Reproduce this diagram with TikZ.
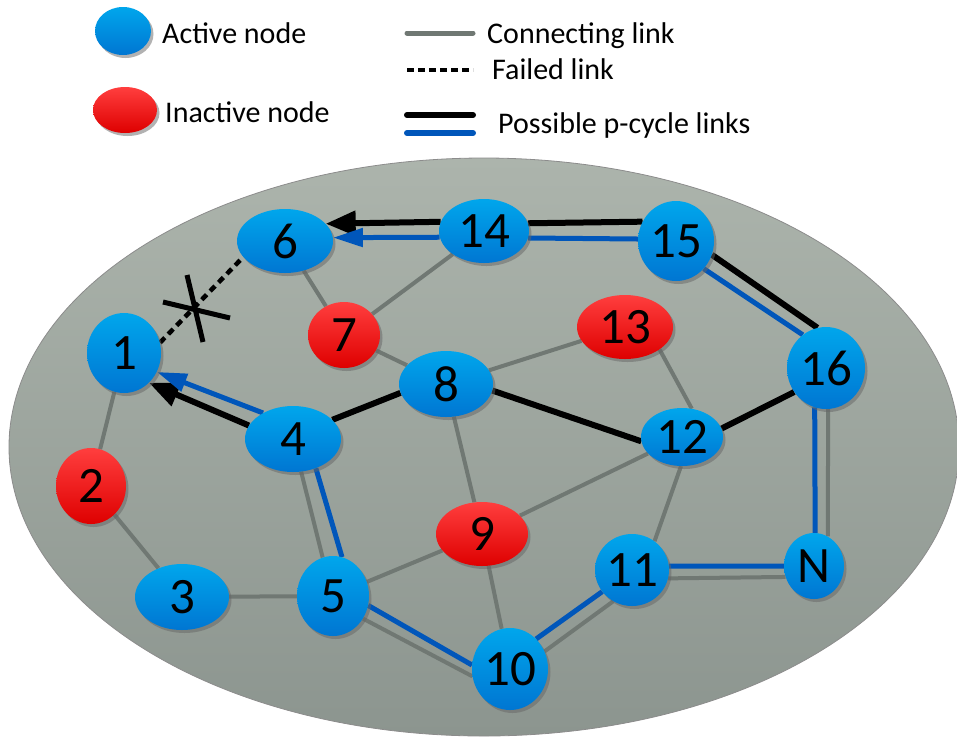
\documentclass[tikz,border=0pt]{standalone}
\usepackage{fontspec}
\setmainfont{Carlito}
\usetikzlibrary{shapes.geometric,arrows.meta,shadows}
\pgfdeclarelayer{bg}
\pgfdeclarelayer{edges}
\pgfsetlayers{bg,edges,main}
\definecolor{nbT}{RGB}{0,166,236}
\definecolor{nbB}{RGB}{0,118,210}
\definecolor{nrT}{RGB}{255,62,62}
\definecolor{nrB}{RGB}{222,0,0}
\definecolor{bgT}{RGB}{172,180,172}
\definecolor{bgB}{RGB}{140,149,143}
\definecolor{lgray}{RGB}{112,120,115}
\definecolor{lblue}{RGB}{0,86,186}
\newcommand{\numfont}{\fontsize{51}{53}\selectfont}
\newcommand{\legfont}{\fontsize{30}{34}\selectfont}
\begin{document}
\begin{tikzpicture}[x=1pt,y=-1pt,
  nd/.style={ellipse, inner sep=0pt, font=\numfont,
    drop shadow={shadow xshift=2.5pt, shadow yshift=-3pt, fill=black!60, opacity=0.5}},
  act/.style={nd, top color=nbT, bottom color=nbB},
  inact/.style={nd, top color=nrT, bottom color=nrB},
  sz/.style 2 args={minimum width=#1pt, minimum height=#2pt},
  glink/.style={draw=lgray, line width=4pt},
  klink/.style={draw=black, line width=6pt},
  plink/.style={draw=lblue, line width=5pt},
  flink/.style={draw=black, line width=4.5pt, dash pattern=on 7pt off 5pt},
  karrow/.style={klink, -{Triangle[length=30pt,width=24pt]}},
  parrow/.style={plink, -{Triangle[length=30pt,width=18pt]}},
  legtext/.style={anchor=base west, font=\legfont, inner sep=0pt},
  xmark/.style={draw=black, line width=5pt},
]
\useasboundingbox (0,0) rectangle (957,740);

\begin{pgfonlayer}{bg}
\path[draw=black!45, line width=0.8pt, top color=bgT, bottom color=bgB]
  (484,447) ellipse [x radius=475pt, y radius=289pt];
\end{pgfonlayer}

% nodes
\node[act, sz={96}{64}] (n6) at (285,241) {6};
\node[act, sz={74}{80}] (n1) at (124,353) {1};
\node[inact, sz={70}{76}] (n2) at (91,486) {2};
\node[act, sz={94}{66}] (n3) at (182,597) {3};
\node[act, sz={96}{66}] (n4) at (293,439) {4};
\node[act, sz={72}{80}] (n5) at (333,596) {5};
\node[inact, sz={72}{66}] (n7) at (344,335) {7};
\node[act, sz={94}{66}] (n8) at (446,384) {8};
\node[inact, sz={92}{64}] (n9) at (482,534) {9};
\node[act, sz={76}{82}] (n10) at (510,669) {10};
\node[act, sz={74}{72}] (n11) at (632,570) {11};
\node[act, sz={82}{58}] (n12) at (682,437) {12};
\node[inact, sz={96}{64}] (n13) at (625,327) {13};
\node[act, sz={90}{64}] (n14) at (484,231) {14};
\node[act, sz={76}{80}] (n15) at (676,241) {15};
\node[act, sz={78}{82}] (n16) at (826,368) {16};
\node[act, sz={60}{66}] (nN) at (814,566) {N};

\begin{pgfonlayer}{edges}
% connecting links
\draw[glink] (n1) -- (n2);
\draw[glink] (n2) -- (n3);
\draw[glink] (n3) -- (n5);
\draw[glink] (n6) -- (n7);
\draw[glink] (n7) -- (n8);
\draw[glink] (n7) -- (n14);
\draw[glink] (n8) -- (n13);
\draw[glink] (n8) -- (n9);
\draw[glink] (n9) -- (n5);
\draw[glink] (n9) -- (n10);
\draw[glink] (n9) -- (n12);
\draw[glink] (n13.327) -- (n12.71);
\draw[glink] (n12.268) -- (n11.52);
% p-cycle single black
\draw[klink] (n4.26) -- (n8.191);
\draw[klink] (n8.352) -- (n12.186);
\draw[klink] (n12.12) -- (n16.217);
% double links
\draw[glink] (n4.284) -- (n5.105);
\draw[plink] (n4.308) -- (n5.77);
\draw[glink] (n5.323) -- (n10.191);
\draw[plink] (n5.345) -- (n10.174);
\draw[glink] (n10.27) -- (n11.239);
\draw[plink] (n10.49) -- (n11.216);
\draw[glink] (n11.347) -- (nN.201);
\draw[plink] (n11.6) -- (nN.180);
\draw[glink] (n16.273) -- (nN.65);
\draw[plink] (n16.254) -- (nN.88);
\draw[klink] (n15.339) -- (n16.102);
\draw[plink] (n15.315) -- (n16.125);
\draw[klink] (n14.10) -- (n15.150);
\draw[plink] (n14.351) -- (n15.177);
% arrows
\draw[karrow] (n14.168) -- (n6.23);
\draw[parrow] (n14.188) -- (n6.4);
\draw[karrow] (n4.163) -- (n1.310);
\draw[parrow] (n4.139) -- (n1.330);
% failed link
\draw[flink] (n1.16) -- (n6.201);
\end{pgfonlayer}

% X mark on failed link
\draw[xmark] (163,302) -- (230,318);
\draw[xmark] (187,275) -- (203,342);

% legend
\node[act, sz={56}{48}] (la) at (123,31) {};
\node[inact, sz={64}{46}] (li) at (125,110) {};
\node[legtext] (ta) at (162,43) {Active node};
\node[legtext] (ti) at (165,122) {Inactive node};
\coordinate (l1a) at (407,33); \coordinate (l1b) at (473,33);
\coordinate (l2a) at (407,70); \coordinate (l2b) at (473,70);
\coordinate (l3a) at (407,115); \coordinate (l3b) at (473,115);
\coordinate (l4a) at (407,133); \coordinate (l4b) at (473,133);
\draw[glink, line width=5pt, line cap=round] (l1a) -- (l1b);
\draw[black, line width=4pt, dash pattern=on 7pt off 4pt] (l2a) -- (l2b);
\draw[klink, line cap=round] (l3a) -- (l3b);
\draw[plink, line width=6pt, line cap=round] (l4a) -- (l4b);
\node[legtext] (tc) at (487,43) {Connecting link};
\node[legtext] (tf) at (492,79) {Failed link};
\node[legtext] (tp) at (498,133) {Possible p-cycle links};
\end{tikzpicture}
\end{document}
